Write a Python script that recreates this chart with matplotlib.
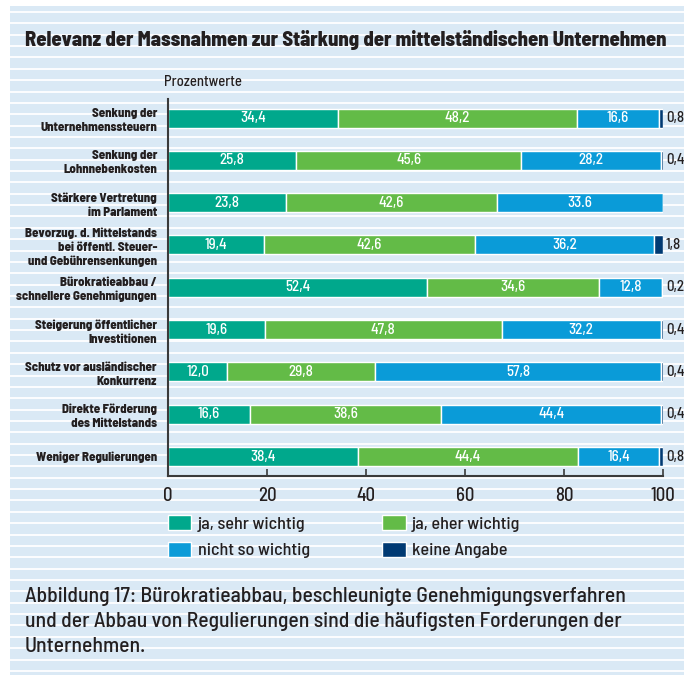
import numpy as np
import matplotlib
matplotlib.use('Agg')
import matplotlib.pyplot as plt
from matplotlib import font_manager

available = {f.name for f in font_manager.fontManager.ttflist}


def pick(*names):
    for n in names:
        if n in available:
            return n
    return 'DejaVu Sans'


# narrow grotesque like the original, DejaVu condensed as last resort
FONT = pick('Barlow Semi Condensed', 'Liberation Sans Narrow', 'DejaVu Sans')
plt.rcParams['font.family'] = [FONT, 'DejaVu Sans']
plt.rcParams['font.stretch'] = 'condensed'
plt.rcParams['font.weight'] = 500

############# Data

categories = [
    'Senkung der\nUnternehmenssteuern',
    'Senkung der\nLohnnebenkosten',
    'Stärkere Vertretung\nim Parlament',
    'Bevorzug. d. Mittelstands\nbei öffentl. Steuer-\nund Gebührensenkungen',
    'Bürokratieabbau /\nschnellere Genehmigungen',
    'Steigerung öffentlicher\nInvestitionen',
    'Schutz vor ausländischer\nKonkurrenz',
    'Direkte Förderung\ndes Mittelstands',
    'Weniger Regulierungen',
]
sehr_wichtig = [34.4, 25.8, 23.8, 19.4, 52.4, 19.6, 12.0, 16.6, 38.4]
eher_wichtig = [48.2, 45.6, 42.6, 42.6, 34.6, 47.8, 29.8, 38.6, 44.4]
nicht_wichtig = [16.6, 28.2, 33.6, 36.2, 12.8, 32.2, 57.8, 44.4, 16.4]
keine_angabe = [0.8, 0.4, 0.0, 1.8, 0.2, 0.4, 0.4, 0.4, 0.8]
# the source prints "33.6" with a point
nicht_labels = ['16,6', '28,2', '33.6', '36,2', '12,8', '32,2', '57,8', '44,4', '16,4']

series_names = ['ja, sehr wichtig', 'ja, eher wichtig', 'nicht so wichtig', 'keine Angabe']
colors = ['#00a88c', '#63bb47', '#0a9bd8', '#003a73']
x_ticks = [0, 20, 40, 60, 80, 100]

title = 'Relevanz der Massnahmen zur Stärkung der mittelständischen Unternehmen'
caption = ['Abbildung 17: Bürokratieabbau, beschleunigte Genehmigungsverfahren',
           'und der Abbau von Regulierungen sind die häufigsten Forderungen der',
           'Unternehmen.']

TXT = '#231f20'
BG = '#dae9f5'

W, H = 693, 675
fig = plt.figure(figsize=(W / 100, H / 100), dpi=100)


def fx(px):
    return px / W


def fy(py):
    return 1 - py / H


def fit_width(t, target_px):
    # scale the font so the text is as wide as in the original
    r = fig.canvas.get_renderer()
    w = t.get_window_extent(r).width
    t.set_fontsize(t.get_fontsize() * target_px / w)
    return t.get_fontsize()


# striped light blue panel
bg = fig.add_axes([fx(10), 0, fx(684) - fx(10), fy(6)])
bg.set_facecolor(BG)
bg.set_xlim(0, 1)
bg.set_ylim(H, 6)
bg.hlines(12 + 11.36 * np.arange(59), 0, 1, color='white', lw=1.3)
for s in bg.spines.values():
    s.set_visible(False)
bg.set_xticks([])
bg.set_yticks([])

# main chart
ax = fig.add_axes([fx(168), fy(476), fx(663) - fx(168), (476 - 99) / H])
ax.patch.set_visible(False)


def fmt(v):
    return ('%.1f' % v).replace('.', ',')


y = np.arange(len(categories))
left = np.zeros(len(categories))
containers = []
for vals, col, name in zip([sehr_wichtig, eher_wichtig, nicht_wichtig, keine_angabe], colors, series_names):
    c = ax.barh(y, vals, left=left, height=0.45, color=col, edgecolor='white', linewidth=1, label=name)
    containers.append(c)
    left = left + np.array(vals)

ax.bar_label(containers[0], labels=[fmt(v) for v in sehr_wichtig], label_type='center', color='white', fontsize=10.8)
ax.bar_label(containers[1], labels=[fmt(v) for v in eher_wichtig], label_type='center', color='white', fontsize=10.8)
ax.bar_label(containers[2], labels=nicht_labels, label_type='center', color='white', fontsize=10.8)
ax.bar_label(containers[3], labels=[fmt(v) if v > 0 else '' for v in keine_angabe], label_type='edge',
             padding=2, color=TXT, fontsize=10.8)

ax.set_xlim(0, 100)
ax.set_ylim(8.46, -0.45)
ax.set_xticks(x_ticks)
ax.set_yticks(y, labels=categories, fontweight=800, fontsize=9.2, linespacing=1.3, color=TXT)
ax.tick_params(axis='x', direction='in', length=5, width=1.2, color='#3a3a3a', pad=8, labelsize=13.5, labelcolor=TXT)
ax.tick_params(axis='y', length=0, pad=8)
for s in ['top', 'right']:
    ax.spines[s].set_visible(False)
for s in ['left', 'bottom']:
    ax.spines[s].set_color('#3a3a3a')
    ax.spines[s].set_linewidth(1.5)

# legend, filled column-wise
order = [0, 2, 1, 3]
fig.legend([containers[i] for i in order], [series_names[i] for i in order],
           loc='upper left', bbox_to_anchor=(fx(168), fy(515)), ncol=2, frameon=False,
           borderpad=0, borderaxespad=0, handlelength=1.3, handleheight=0.9, handletextpad=0.35,
           columnspacing=4.0, labelspacing=0.55, fontsize=13, labelcolor=TXT)

t = fig.text(fx(25), fy(40), title, fontsize=14, fontweight=800, va='center', color=TXT)
fit_width(t, 643)
t = fig.text(fx(164), fy(82), 'Prozentwerte', fontsize=11, va='center', color=TXT)
fit_width(t, 78)
cap_texts = [fig.text(fx(25), fy(base), line, fontsize=12, va='baseline', color=TXT)
             for line, base in zip(caption, [602, 627, 652])]
size = fit_width(cap_texts[0], 600)
for t in cap_texts[1:]:
    t.set_fontsize(size)

fig.savefig('out.png', dpi=100)
